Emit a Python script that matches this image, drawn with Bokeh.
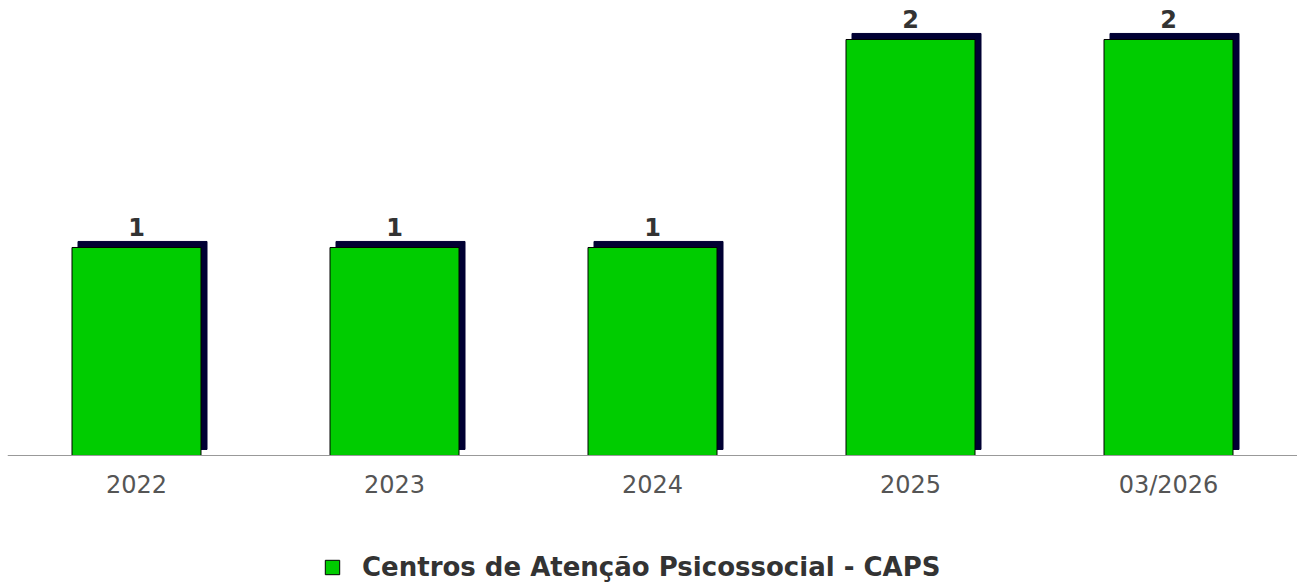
from bokeh.plotting import figure
from bokeh.models import ColumnDataSource, LabelSet, Legend, LegendItem, FactorRange, Range1d
from bokeh.core.properties import value
from bokeh.transform import dodge
from bokeh.embed import file_html
from bokeh.resources import INLINE

categories = ["2022", "2023", "2024", "2025", "03/2026"]
values = [1, 1, 1, 2, 2]
series_name = "Centros de Atenção Psicossocial - CAPS"

shadow_dy = 0.029
src = ColumnDataSource(data=dict(
    cat=categories,
    val=values,
    label=[str(v) for v in values],
    stop=[v + shadow_dy for v in values],
    sbottom=[shadow_dy] * len(values),
))

p = figure(x_range=FactorRange(*categories), y_range=Range1d(-0.6106, 2.149),
           width=1297, height=582,
           frame_width=1290, frame_height=574, output_backend="svg", toolbar_location=None,
           min_border_left=7, min_border_right=0, min_border_top=8, min_border_bottom=0)
p.outline_line_color = None
p.grid.visible = False
p.yaxis.visible = False

# shadow
p.vbar(x=dodge("cat", 0.0233, range=p.x_range), top="stop", bottom="sbottom",
       width=0.5, source=src, fill_color="#000033", line_color="#000033")
r = p.vbar(x="cat", top="val", bottom=0, width=0.5, source=src,
           fill_color="#00CC00", line_color="#000000", line_width=1)

labels = LabelSet(x="cat", y="val", text="label", source=src, y_offset=11,
                  text_align="center", text_baseline="alphabetic",
                  text_font=value("DejaVu Sans"), text_font_style="bold",
                  text_font_size="24px", text_color="#333333")
p.add_layout(labels)

ax = p.xaxis[0]
ax.fixed_location = 0
ax.axis_line_color = "#999999"
ax.axis_line_width = 1
ax.major_tick_line_color = None
ax.minor_tick_line_color = None
ax.major_label_text_font = "DejaVu Sans"
ax.major_label_text_font_size = "24px"
ax.major_label_text_color = "#555555"
ax.major_label_standoff = 10

legend = Legend(items=[LegendItem(label=series_name, renderers=[r])],
                orientation="horizontal", location=(316, 0),
                label_text_font="DejaVu Sans", label_text_font_style="bold",
                label_text_font_size="26px", label_text_color="#333333",
                glyph_width=18, glyph_height=18, border_line_color=None,
                background_fill_alpha=0,
                margin=0, padding=0, label_standoff=21)
p.add_layout(legend, "center")

open("out.html", "w").write(file_html(p, INLINE))
